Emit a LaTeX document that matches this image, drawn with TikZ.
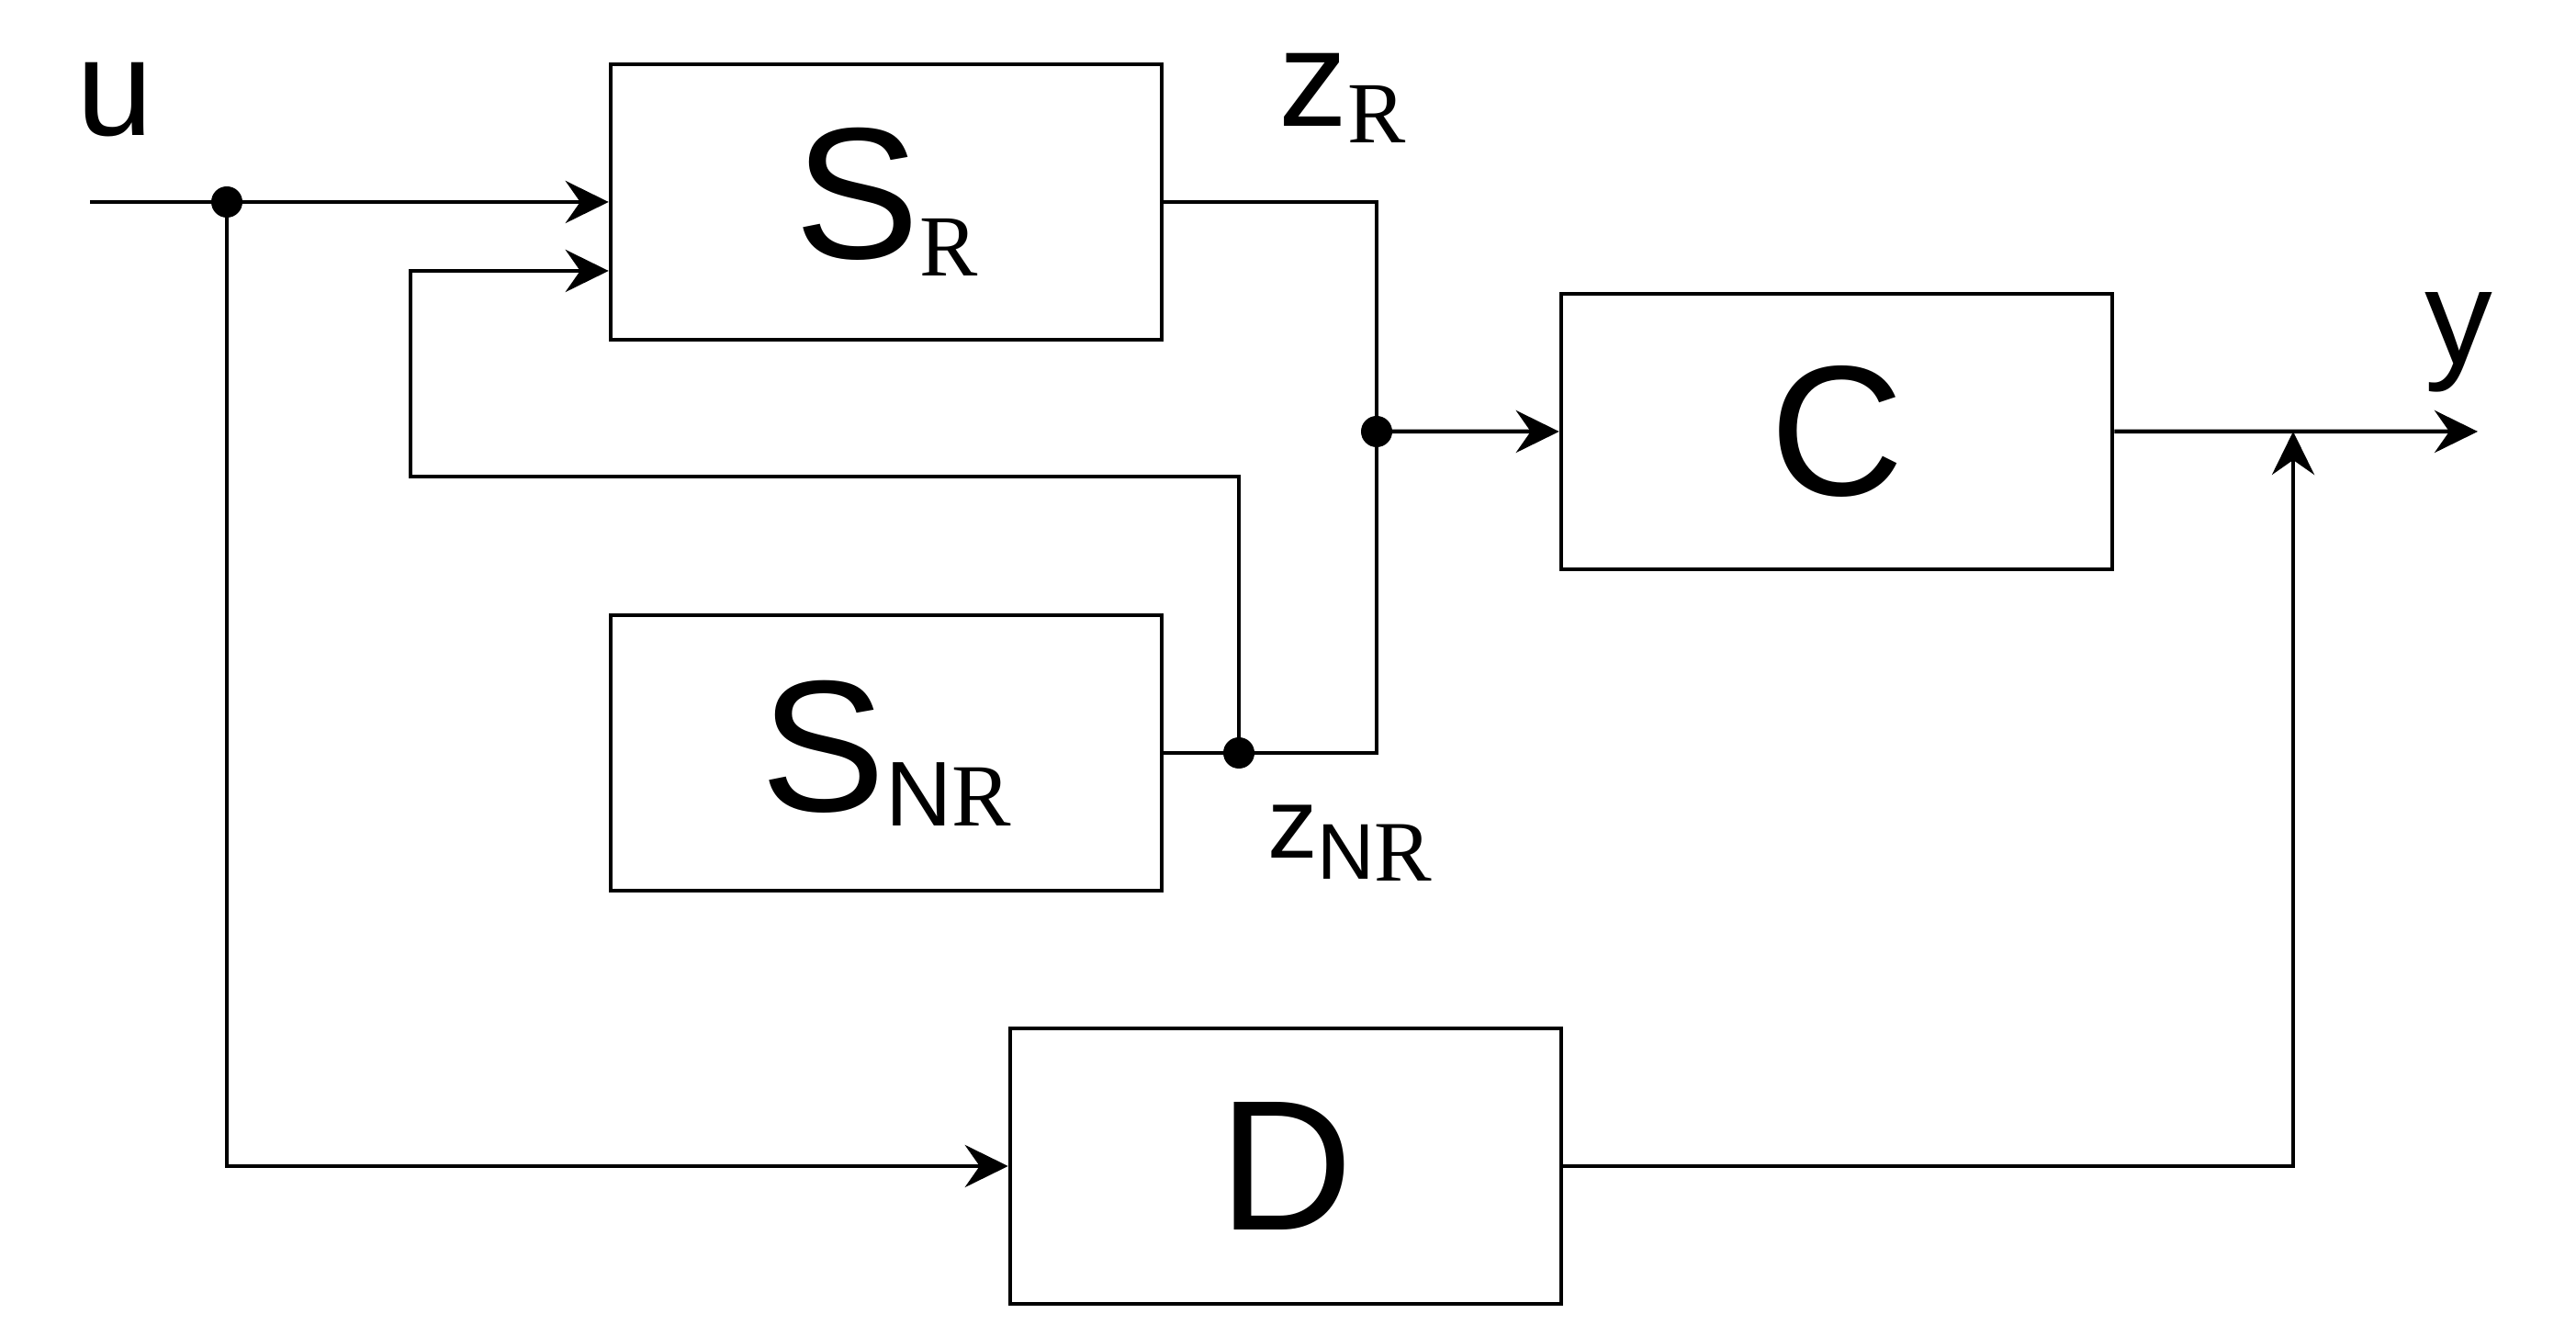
\documentclass[tikz,border=0pt]{standalone}
\usepackage{fontspec}
\setmainfont{Liberation Sans}
\newfontfamily\romanR{Liberation Serif}
\usepackage{tikz}
\usetikzlibrary{arrows.meta}

\begin{document}
\begin{tikzpicture}[node distance=6cm, line width=1.28pt,
  block/.style={draw,rectangle,minimum width=6cm,minimum height=3cm,inner sep=0pt},
  lbl/.style={inner sep=0pt,anchor=base west},
  dot/.style={circle,fill,inner sep=0pt,minimum size=0.34cm},
  >={Stealth[length=0.47cm,width=0.46cm,inset=0.16cm]}]
  \useasboundingbox (0,0) rectangle (28.05,14.55);
  \node[block] (sr) at (9.65,12.35) {\fontsize{58}{58}\selectfont S\raisebox{-0.19cm}{\romanR\fontsize{27}{27}\selectfont R}};
  \node[block] (snr) [below of=sr] {\fontsize{58}{58}\selectfont S\raisebox{-0.16cm}{\fontsize{28.5}{28.5}\selectfont N\romanR\fontsize{27.5}{27.5}\selectfont R}};
  \node[block] (c) [right of=sr, xshift=4.35cm, yshift=-2.5cm] {\fontsize{57.5}{57.5}\selectfont C};
  \node[block] (d) [below of=c, xshift=-6cm, yshift=-2cm] {\fontsize{57.5}{57.5}\selectfont D};
  % junctions and free ends
  \coordinate (uin) at (0.98,12.35);
  \coordinate (fb) at (4.47,9.36);
  \coordinate (yout) at (26.98,9.85);
  \coordinate (jy) at (24.97,9.85);
  % labels
  \node[inner sep=0pt,anchor=base] (ulbl) at (1.25,13.07) {\fontsize{42.7}{42.7}\selectfont u};
  \node[inner sep=0pt,anchor=base] (ylbl) at (26.77,10.58) {\fontsize{42}{42}\selectfont y};
  \node[lbl] (zrlbl) at (13.90,13.17) {\fontsize{42.7}{42.7}\selectfont z\raisebox{-0.18cm}{\romanR\fontsize{27}{27}\selectfont R}};
  \node[lbl] (znrlbl) at (13.78,5.20) {\fontsize{31}{31}\selectfont z\raisebox{-0.23cm}{\fontsize{24.5}{24.5}\selectfont N\raisebox{-0.02cm}{\romanR\fontsize{26.7}{26.7}\selectfont R}}};
  % connectors
  \coordinate (ju) at (2.47,12.35);
  \coordinate (jc) at (14.99,9.85);
  \coordinate (jnr) at (13.49,6.35);
  \draw[->] (uin) -- (sr.west);
  \draw[->] (ju) |- (d.west);
  \draw[->] (jnr) |- (fb) |- ([yshift=-0.75cm]sr.west);
  \draw (sr.east) -| (jc |- snr.east) -- (snr.east);
  \draw[->] (jc) -- (c.west);
  \draw[->] (c.east) -- (yout);
  \draw[->] (d.east) -| (jy);
  % junction dots
  \node[dot] (dju) at (ju) {};
  \node[dot] (djc) at (jc) {};
  \node[dot] (djnr) at (jnr) {};
\end{tikzpicture}
\end{document}
